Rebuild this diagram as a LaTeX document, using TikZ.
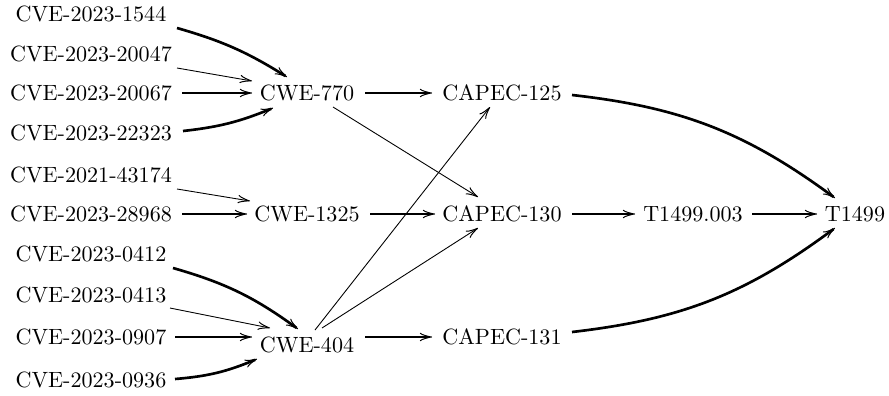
\documentclass[tikz,border=0pt]{standalone}
\usetikzlibrary{arrows.meta}
\begin{document}
\begin{tikzpicture}[x=0.4525pt,y=-0.4525pt,
  lbl/.style={inner sep=0pt,outer sep=0pt,anchor=center},
  edge/.style={-{Classical TikZ Rightarrow[length=5.5pt,width=3.8pt,line width=0.45pt]}},
  thn/.style={edge,line width=0.4pt},
  med/.style={edge,line width=0.8pt},
  thk/.style={edge,line width=1.2pt}]
\useasboundingbox (0,0) rectangle (889,396);
% left column
\node[lbl] (c1544)  at (91,14)  {CVE-2023-1544};
\node[lbl] (c20047) at (91,54)  {CVE-2023-20047};
\node[lbl] (c20067) at (91,93)  {CVE-2023-20067};
\node[lbl] (c22323) at (91,133) {CVE-2023-22323};
\node[lbl] (c43174) at (91,175) {CVE-2021-43174};
\node[lbl] (c28968) at (91,214) {CVE-2023-28968};
\node[lbl] (c0412)  at (91,254) {CVE-2023-0412};
\node[lbl] (c0413)  at (91,295) {CVE-2023-0413};
\node[lbl] (c0907)  at (91,337) {CVE-2023-0907};
\node[lbl] (c0936)  at (91,380) {CVE-2023-0936};
% CWE
\node[lbl] (cwe770)  at (307,93)  {CWE-770};
\node[lbl] (cwe1325) at (307,214) {CWE-1325};
\node[lbl] (cwe404)  at (307,345) {CWE-404};
% CAPEC
\node[lbl] (capec125) at (502,93)  {CAPEC-125};
\node[lbl] (capec130) at (502,214) {CAPEC-130};
\node[lbl] (capec131) at (502,337) {CAPEC-131};
% techniques
\node[lbl] (t1499003) at (693,214) {T1499.003};
\node[lbl] (t1499)    at (855,214) {T1499};
% edges into CWE-770
\draw[thk] ([shift={(86,14)}]c1544.center) to[bend left=8] ([shift={(-20,-16)}]cwe770.center);
\draw[thn] ([shift={(86,14)}]c20047.center) -- ([shift={(-55,-12)}]cwe770.center);
\draw[thk] ([shift={(91,0)}]c20067.center) -- ([shift={(-55,0)}]cwe770.center);
\draw[thk] ([shift={(92,-2)}]c22323.center) to[bend right=8] ([shift={(-34,15)}]cwe770.center);
% edges into CWE-1325
\draw[thn] ([shift={(86,14)}]c43174.center) -- ([shift={(-57,-13)}]cwe1325.center);
\draw[med] ([shift={(91,0)}]c28968.center) -- ([shift={(-60,0)}]cwe1325.center);
% edges into CWE-404
\draw[thk] ([shift={(82,14)}]c0412.center) to[bend left=10] ([shift={(-9,-16)}]cwe404.center);
\draw[thn] ([shift={(79,13)}]c0413.center) -- ([shift={(-37,-17)}]cwe404.center);
\draw[thk] ([shift={(84,0)}]c0907.center) -- ([shift={(-55,-8)}]cwe404.center);
\draw[thk] ([shift={(84,-1)}]c0936.center) to[bend right=9] ([shift={(-50,14)}]cwe404.center);
% CWE -> CAPEC
\draw[thk] ([shift={(58,0)}]cwe770.center) -- ([shift={(-70,0)}]capec125.center);
\draw[thn] ([shift={(26,14)}]cwe770.center) -- ([shift={(-24,-17)}]capec130.center);
\draw[med] ([shift={(63,0)}]cwe1325.center) -- ([shift={(-67,0)}]capec130.center);
\draw[thn] ([shift={(8,-15)}]cwe404.center) -- ([shift={(-12,14)}]capec125.center);
\draw[thn] ([shift={(15,-17)}]cwe404.center) -- ([shift={(-24,14)}]capec130.center);
\draw[thk] ([shift={(58,-8)}]cwe404.center) -- ([shift={(-70,0)}]capec131.center);
% CAPEC -> techniques
\draw[thk] ([shift={(70,2)}]capec125.center) to[bend left=15] ([shift={(-20,-16)}]t1499.center);
\draw[med] ([shift={(70,0)}]capec130.center) -- ([shift={(-58,0)}]t1499003.center);
\draw[med] ([shift={(59,0)}]t1499003.center) -- ([shift={(-38,0)}]t1499.center);
\draw[thk] ([shift={(70,-5)}]capec131.center) to[bend right=15] ([shift={(-20,14)}]t1499.center);
\end{tikzpicture}
\end{document}
